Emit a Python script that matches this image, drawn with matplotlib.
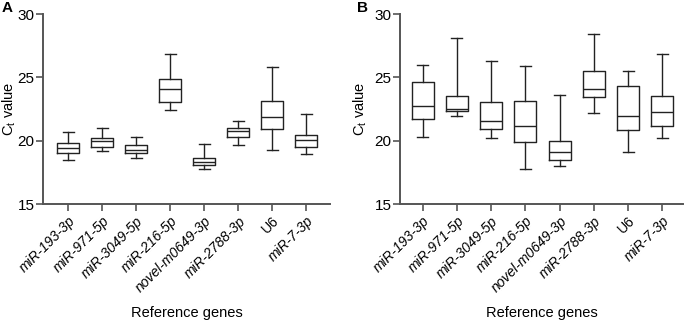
import numpy as np
import matplotlib
matplotlib.use("Agg")
import matplotlib.pyplot as plt

plt.rcParams['font.family'] = ['Liberation Sans', 'DejaVu Sans']
plt.rcParams['mathtext.fontset'] = 'custom'
plt.rcParams['mathtext.rm'] = 'Liberation Sans'
plt.rcParams['mathtext.it'] = 'Liberation Sans:italic'

genes = ['miR-193-3p', 'miR-971-5p', 'miR-3049-5p', 'miR-216-5p',
         'novel-m0649-3p', 'miR-2788-3p', 'U6', 'miR-7-3p']
italic = [True, True, True, True, True, True, False, True]

# panel A: min, Q1, median, Q3, max
a_min = [18.45, 19.18, 18.66, 22.45, 17.76, 19.66, 19.31, 18.95]
a_q1 = [19.00, 19.55, 19.05, 23.08, 18.13, 20.29, 20.97, 19.55]
a_med = [19.47, 19.95, 19.31, 24.06, 18.34, 20.79, 21.90, 20.08]
a_q3 = [19.82, 20.26, 19.63, 24.87, 18.66, 21.05, 23.16, 20.42]
a_max = [20.69, 21.05, 20.34, 26.88, 19.71, 21.53, 25.80, 22.11]

# panel B
b_min = [20.29, 21.92, 20.24, 17.76, 18.00, 22.19, 19.10, 20.21]
b_q1 = [21.74, 22.32, 20.92, 19.92, 18.45, 23.45, 20.84, 21.16]
b_med = [22.77, 22.48, 21.58, 21.19, 19.13, 24.11, 21.98, 22.27]
b_q3 = [24.66, 23.53, 23.08, 23.16, 20.00, 25.48, 24.30, 23.53]
b_max = [26.01, 28.09, 26.32, 25.90, 23.64, 28.41, 25.51, 26.82]

gray = '#555555'


def draw_panel(ax, mins, q1s, meds, q3s, maxs, xlim, ylab_x):
    stats = []
    for i in range(len(genes)):
        stats.append(dict(whislo=mins[i], q1=q1s[i], med=meds[i],
                          q3=q3s[i], whishi=maxs[i], fliers=[]))
    lp = dict(color='#222222', linewidth=1.0)
    ax.bxp(stats, positions=np.arange(1, len(genes) + 1), widths=0.64,
           showfliers=False, boxprops=lp, medianprops=lp,
           whiskerprops=lp, capprops=lp)
    ax.set_xlim(*xlim)
    ax.set_ylim(15, 30)
    ax.set_yticks([15, 20, 25, 30])
    ax.set_xticks(np.arange(1, len(genes) + 1))
    ax.set_xticklabels(genes, rotation=45, ha='right', rotation_mode='anchor',
                       fontsize=10)
    for lab, it in zip(ax.get_xticklabels(), italic):
        if it:
            lab.set_style('italic')
    ax.tick_params(axis='y', labelsize=11, length=5, width=1.2, color=gray, pad=1)
    ax.tick_params(axis='x', length=5, width=1.2, color=gray, pad=2)
    for s in ['top', 'right']:
        ax.spines[s].set_visible(False)
    for s in ['left', 'bottom']:
        ax.spines[s].set_color(gray)
        ax.spines[s].set_linewidth(1.4)
    ax.set_ylabel(r'C$_\mathrm{t}$ value', fontsize=10.5)
    ax.yaxis.set_label_coords(ylab_x, 0.5)
    ax.set_xlabel('Reference genes', fontsize=10.5, labelpad=8)


fig = plt.figure(figsize=(6.85, 3.21), dpi=100)
ax1 = fig.add_axes([0.0628, 0.364, 0.419, 0.592])
ax2 = fig.add_axes([0.584, 0.364, 0.413, 0.592])

draw_panel(ax1, a_min, a_q1, a_med, a_q3, a_max, (0.26, 8.7), -0.088)
draw_panel(ax2, b_min, b_q1, b_med, b_q3, b_max, (0.34, 8.6), -0.11)

fig.text(2 / 685, 1 - 8 / 321, 'A', fontsize=11, fontweight='bold',
         va='center', ha='left')
fig.text(357 / 685, 1 - 8 / 321, 'B', fontsize=11, fontweight='bold',
         va='center', ha='left')

fig.savefig('out.png', dpi=100)
